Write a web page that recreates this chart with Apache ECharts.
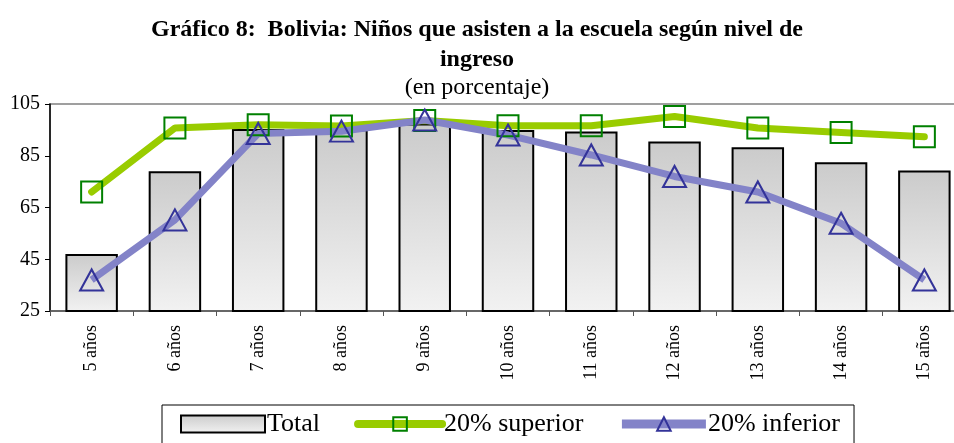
<!DOCTYPE html>
<html>
<head>
<meta charset="utf-8">
<script src="https://cdn.jsdelivr.net/npm/echarts@6/dist/echarts.min.js"></script>
<style>
  html, body { margin: 0; padding: 0; background: #fff; }
  #chart { width: 954px; height: 443px; }
</style>
</head>
<body>
<div id="chart"></div>
<script>
const categorias = ['5 años', '6 años', '7 años', '8 años', '9 años', '10 años', '11 años', '12 años', '13 años', '14 años', '15 años'];
const total = [47, 79, 95.3, 95.2, 97.5, 95, 94.4, 90.5, 88.3, 82.5, 79.3];
const superior = [71, 95.7, 97, 96.5, 98.6, 96.6, 96.6, 100.2, 95.7, 94, 92.3];
const inferior = [37, 60.2, 93.6, 94.5, 98.8, 93, 85.3, 77, 71, 58.9, 37];

const serif = '"Liberation Serif", "Times New Roman", serif';

const myChart = echarts.init(document.getElementById('chart'));
const option = {
    animation: false,
    title: {
        text: 'Gráfico 8:  Bolivia: Niños que asisten a la escuela según nivel de\ningreso',
        subtext: '(en porcentaje)',
        left: 'center',
        top: 10,
        itemGap: 1,
        textStyle: {
            fontFamily: serif,
            fontWeight: 'bold',
            fontSize: 24,
            lineHeight: 30,
            color: '#000'
        },
        subtextStyle: {
            fontFamily: serif,
            fontSize: 24,
            color: '#000'
        }
    },
    legend: {
        left: 162,
        top: 405,
        padding: [6, 14, 10, 18],
        itemGap: 34,
        itemWidth: 84,
        itemHeight: 17,
        borderColor: '#000',
        borderWidth: 1,
        textStyle: {
            fontFamily: serif,
            fontSize: 26,
            color: '#000',
            padding: [0, 0, 0, -3]
        },
        data: [
            { name: 'Total', icon: 'rect' },
            { name: '20% superior', lineStyle: { width: 8 } },
            { name: '20% inferior', lineStyle: { width: 9, cap: 'butt' } }
        ]
    },
    grid: {
        left: 50,
        top: 104,
        width: 916,
        height: 207,
        outerBoundsMode: 'none',
        show: true,
        borderColor: '#808080',
        borderWidth: 1.5
    },
    xAxis: {
        type: 'category',
        data: categorias,
        axisLine: { lineStyle: { color: '#555', width: 1.5 } },
        axisTick: { show: true, interval: 0, length: 5, lineStyle: { color: '#555' } },
        axisLabel: {
            rotate: 90,
            margin: 14,
            fontFamily: serif,
            fontSize: 18,
            color: '#000'
        }
    },
    yAxis: {
        type: 'value',
        min: 25,
        max: 105,
        interval: 20,
        axisLine: { show: true, lineStyle: { color: '#000', width: 1.5 } },
        axisTick: { show: true, length: 5, lineStyle: { color: '#000' } },
        splitLine: { show: false },
        axisLabel: {
            margin: 10,
            fontFamily: serif,
            fontSize: 20,
            color: '#000'
        }
    },
    series: [
        {
            name: 'Total',
            type: 'bar',
            data: total,
            barCategoryGap: '37%',
            itemStyle: {
                color: new echarts.graphic.LinearGradient(0, 0, 0, 1, [
                    { offset: 0, color: '#cbcbcb' },
                    { offset: 1, color: '#f2f2f2' }
                ]),
                borderColor: '#000',
                borderWidth: 2
            }
        },
        {
            name: '20% superior',
            type: 'line',
            data: superior,
            symbol: 'rect',
            symbolSize: 21,
            showAllSymbol: true,
            lineStyle: { color: '#99cc00', width: 7, cap: 'round' },
            itemStyle: { color: 'rgba(255,255,255,0)', borderColor: '#008000', borderWidth: 2 }
        },
        {
            name: '20% inferior',
            type: 'line',
            data: inferior,
            symbol: 'triangle',
            symbolSize: [23, 21],
            showAllSymbol: true,
            lineStyle: { color: '#8383c8', width: 7 },
            itemStyle: { color: 'rgba(255,255,255,0)', borderColor: '#333399', borderWidth: 2 }
        }
    ]
};
myChart.setOption(option);
</script>
</body>
</html>
